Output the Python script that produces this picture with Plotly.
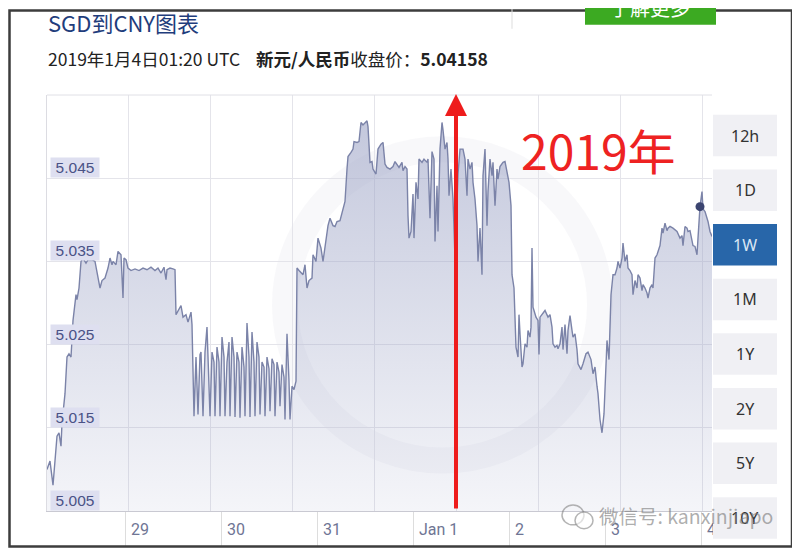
import plotly.graph_objects as go
import pandas as pd

# ---------------- data ----------------
BASE = "2018-12-28 00:00"          # hours below are counted from here (UTC)
hours = [
    4.5, 5.25, 6.0, 6.5, 7.0, 7.5, 8.0, 8.25, 9.0, 9.5, 10.0, 10.5, 11.0, 11.75, 12.0, 12.5,
    13.0, 13.5, 14.25, 14.75, 15.75, 16.5, 17.25, 17.75, 18.25, 19.0, 19.75, 20.25, 20.75,
    21.0, 21.75, 22.25, 23.0, 23.5, 23.75, 24.25, 24.75, 25.5, 26.5, 27.5, 28.5, 29.5, 30.5,
    31.5, 32.25, 33.0, 33.75, 34.25, 34.5, 35.25, 36.0, 36.5, 36.75, 37.25, 38.0, 38.5, 39.25,
    39.75, 40.5, 40.75,
    41.0, 41.25, 41.75, 42.25, 42.75, 43.0, 43.5, 44.0, 44.5, 44.75, 45.25, 45.75, 46.25, 46.5,
    47.0, 47.5, 47.75, 48.25, 48.75, 49.0, 49.5, 50.0, 50.25, 50.75, 51.25, 51.5, 52.0, 52.5,
    52.75, 53.25, 53.75, 54.0, 54.5, 55.0, 55.25, 55.75, 56.25, 56.5, 57.0, 57.5, 57.75, 58.25,
    58.75, 59.0, 59.5, 60.0, 60.25, 60.75, 61.25, 61.5, 62.0, 62.5, 62.75, 63.25, 63.75, 64.0,
    64.5, 65.0, 65.25, 65.75, 66.25, 66.75,
    67.0, 67.5, 68.5, 69.0, 69.5, 70.0, 70.75, 71.0, 71.75, 72.25, 73.0, 73.5, 74.25, 74.75,
    75.25, 76.0, 76.5, 77.0, 77.75, 78.5, 79.0, 79.5, 79.75, 80.5, 81.0, 81.25, 82.0, 82.5,
    83.0, 83.5, 84.0, 84.5, 84.75, 85.25, 85.75, 86.0, 86.75, 87.25, 88.0, 88.5, 89.0, 89.5,
    90.25, 91.0, 91.5, 92.0, 92.5, 93.25, 93.5, 94.0, 94.5, 94.75, 95.0, 95.5, 95.75, 96.0,
    96.25, 96.75, 97.25, 97.5,
    98.25, 98.75, 99.5, 99.75, 100.25, 100.75, 101.25, 101.5, 102.0, 102.25, 102.75, 103.25,
    103.5, 104.0, 104.5, 104.75, 105.0, 105.5, 106.0, 106.5, 107.25, 107.75, 108.5, 109.0,
    109.5, 109.75, 110.25, 110.75, 111.0, 111.5, 112.0, 112.25, 112.75, 113.25, 113.5, 114.0,
    114.5, 114.75, 115.25, 115.75, 116.0, 116.5, 117.0, 117.25, 117.75, 118.5, 119.0, 119.5,
    120.0, 120.5, 120.75, 121.25, 121.75, 122.25, 122.5, 122.75, 123.25, 123.5, 124.0, 124.5,
    124.75, 125.25, 125.5, 125.75, 126.0, 126.25, 126.75, 127.25, 127.5, 127.75, 128.25, 129.0,
    129.75, 130.25, 130.75, 131.0, 131.5, 132.0, 132.25, 132.75, 133.25, 133.5, 134.0, 134.5,
    134.75, 135.25, 135.75, 136.0, 136.5, 137.0, 137.25, 138.0, 138.5, 139.25, 139.75, 140.5,
    141.0, 141.5, 142.0, 142.25, 142.75, 143.25, 143.75, 144.25, 144.5, 145.0, 145.5, 146.0,
    146.5, 147.0, 147.25, 147.75, 148.25, 148.5, 149.0, 149.5, 149.75, 150.25, 150.75, 151.0,
    151.5, 152.0, 152.25, 152.75, 153.25, 153.5, 154.0, 154.5, 154.75, 155.25, 155.75, 156.0,
    156.5, 157.0, 157.25, 157.75, 158.25, 158.5, 159.0, 159.5, 159.75, 160.25, 161.0, 162.0,
    162.75, 163.25, 163.5, 164.0, 164.5, 164.75, 165.25, 165.75, 166.0, 166.5, 167.0, 167.25,
    167.5, 167.75, 168.25, 168.5, 169.0, 169.5, 169.75, 170.25, 170.75,
]
rate = [
    5.0100, 5.0110, 5.0081, 5.0116, 5.0140, 5.0144, 5.0128, 5.0156, 5.0191, 5.0235, 5.0239,
    5.0235, 5.0279, 5.0310, 5.0304, 5.0318, 5.0350, 5.0354, 5.0348, 5.0352, 5.0352, 5.0350,
    5.0330, 5.0318, 5.0327, 5.0330, 5.0342, 5.0354, 5.0346, 5.0350, 5.0346, 5.0362, 5.0358,
    5.0306, 5.0354, 5.0352, 5.0342, 5.0339, 5.0341, 5.0339, 5.0342, 5.0340, 5.0343, 5.0339,
    5.0342, 5.0336, 5.0343, 5.0328, 5.0340, 5.0342, 5.0341, 5.0340, 5.0286, 5.0291, 5.0297,
    5.0283, 5.0286, 5.0277, 5.0289, 5.0274,
    5.0232, 5.0164, 5.0235, 5.0166, 5.0238, 5.0241, 5.0164, 5.0241, 5.0271, 5.0235, 5.0164,
    5.0241, 5.0229, 5.0164, 5.0247, 5.0229, 5.0164, 5.0259, 5.0235, 5.0164, 5.0229, 5.0253,
    5.0164, 5.0259, 5.0235, 5.0163, 5.0241, 5.0229, 5.0162, 5.0247, 5.0223, 5.0164, 5.0276,
    5.0235, 5.0163, 5.0265, 5.0229, 5.0164, 5.0253, 5.0235, 5.0166, 5.0229, 5.0223, 5.0164,
    5.0235, 5.0221, 5.0170, 5.0233, 5.0226, 5.0164, 5.0229, 5.0217, 5.0176, 5.0226, 5.0211,
    5.0160, 5.0263, 5.0206, 5.0160, 5.0200, 5.0196, 5.0206,
    5.0342, 5.0339, 5.0334, 5.0346, 5.0318, 5.0327, 5.0330, 5.0358, 5.0350, 5.0378, 5.0366,
    5.0350, 5.0378, 5.0393, 5.0402, 5.0393, 5.0392, 5.0398, 5.0399, 5.0413, 5.0422, 5.0461,
    5.0476, 5.0481, 5.0485, 5.0494, 5.0493, 5.0494, 5.0517, 5.0514, 5.0517, 5.0519, 5.0512,
    5.0469, 5.0470, 5.0461, 5.0455, 5.0485, 5.0491, 5.0493, 5.0467, 5.0463, 5.0461, 5.0464,
    5.0470, 5.0467, 5.0463, 5.0469, 5.0459, 5.0464, 5.0461, 5.0405, 5.0378, 5.0386, 5.0419,
    5.0431, 5.0378, 5.0445, 5.0425, 5.0473,
    5.0469, 5.0473, 5.0469, 5.0473, 5.0402, 5.0482, 5.0473, 5.0374, 5.0441, 5.0386, 5.0485,
    5.0517, 5.0508, 5.0485, 5.0493, 5.0473, 5.0429, 5.0461, 5.0425, 5.0354, 5.0455, 5.0485,
    5.0485, 5.0473, 5.0429, 5.0473, 5.0461, 5.0469, 5.0445, 5.0425, 5.0393, 5.0350, 5.0390,
    5.0334, 5.0453, 5.0485, 5.0393, 5.0434, 5.0473, 5.0453, 5.0469, 5.0417, 5.0461, 5.0449,
    5.0464, 5.0469, 5.0470, 5.0457, 5.0445, 5.0417, 5.0334, 5.0318, 5.0247, 5.0235, 5.0286,
    5.0263, 5.0223, 5.0227, 5.0251, 5.0247, 5.0267, 5.0259, 5.0271, 5.0366, 5.0295, 5.0291,
    5.0283, 5.0279, 5.0238, 5.0283, 5.0286, 5.0291, 5.0283, 5.0286, 5.0271, 5.0251, 5.0247,
    5.0249, 5.0245, 5.0251, 5.0271, 5.0244, 5.0274, 5.0239, 5.0267, 5.0285, 5.0267, 5.0259,
    5.0263, 5.0244, 5.0227, 5.0220, 5.0227, 5.0239, 5.0241, 5.0232, 5.0215, 5.0223, 5.0200,
    5.0191, 5.0160, 5.0144, 5.0167, 5.0220, 5.0255, 5.0232, 5.0310, 5.0334,
    5.0334, 5.0342, 5.0350, 5.0342, 5.0354, 5.0372, 5.0350, 5.0358, 5.0342, 5.0339, 5.0334,
    5.0310, 5.0327, 5.0318, 5.0334, 5.0330, 5.0315, 5.0322, 5.0318, 5.0312, 5.0306, 5.0318,
    5.0322, 5.0318, 5.0354, 5.0358, 5.0362, 5.0369, 5.0390, 5.0384, 5.0396, 5.0387, 5.0390,
    5.0392, 5.0390, 5.0386, 5.0378, 5.0381, 5.0369, 5.0392, 5.0390, 5.0386, 5.0387, 5.0374,
    5.0369, 5.0368, 5.0358, 5.0378, 5.0405, 5.04158, 5.0434, 5.0413, 5.0410, 5.0402, 5.0398,
    5.0386, 5.0380,
]
close_hour = 167.75
close_rate = 5.04158

x_tick_days = ["2018-12-29", "2018-12-30", "2018-12-31", "2019-01-01",
               "2019-01-02", "2019-01-03", "2019-01-04"]
x_tick_text = ["29", "30", "31", "Jan 1", "2", "3", "4"]
y_tick_vals = [5.005, 5.015, 5.025, 5.035, 5.045]
y_tick_text = ["5.005", "5.015", "5.025", "5.035", "5.045"]
range_buttons = ["12h", "1D", "1W", "1M", "1Y", "2Y", "5Y", "10Y"]
active_button = "1W"

title_text = "SGD到CNY图表"
subtitle_text = "2019年1月4日01:20 UTC&nbsp;&nbsp;&nbsp;&nbsp;<b>新元/人民币</b>收盘价：<b>5.04158</b>"

# ---------------- figure geometry (page pixels) ----------------
PAGE_W, PAGE_H = 800, 557
OFF = 8                                 # default body margin of the html page
L, R, T, B = 47, 712, 95, 516          # plot area, page pixels


def px(xp):
    return (xp - L) / (R - L)


def py(yp):
    return (B - yp) / (B - T)


base = pd.Timestamp(BASE)
times = base + pd.to_timedelta(hours, unit="h")
close_time = base + pd.to_timedelta(close_hour, unit="h")
x_range = [base + pd.to_timedelta(4.5, unit="h"), base + pd.to_timedelta(170.75, unit="h")]

fig = go.Figure()

# dummy trace so the grid axis exists
fig.add_trace(go.Scatter(x=[None], y=[None], xaxis="x2", yaxis="y",
                         showlegend=False, hoverinfo="skip"))

fig.add_trace(go.Scatter(
    x=times, y=rate, mode="lines",
    line=dict(color="#7b83a8", width=1.4),
    fill="tozeroy",
    fillgradient=dict(type="vertical", start=5.005, stop=5.055,
                      colorscale=[[0, "rgba(155,162,197,0.10)"],
                                  [1, "rgba(155,162,197,0.62)"]]),
    showlegend=False, hoverinfo="skip",
))

fig.add_trace(go.Scatter(
    x=[close_time], y=[close_rate], mode="markers",
    marker=dict(color="#3b4470", size=9),
    showlegend=False, hoverinfo="skip",
))

grid_col = "#e4e4ea"
fig.update_layout(
    width=PAGE_W - OFF, height=PAGE_H - OFF,
    margin=dict(l=L - OFF, r=PAGE_W - R, t=T - OFF, b=PAGE_H - B, pad=0),
    paper_bgcolor="white", plot_bgcolor="white",
    font=dict(family="Roboto, Liberation Sans, sans-serif"),
    xaxis=dict(
        type="date", range=x_range,
        tickvals=pd.to_datetime(x_tick_days), ticktext=x_tick_text,
        showgrid=False, zeroline=False,
        ticks="outside", ticklen=34, tickcolor="#dddddd", tickwidth=1,
        ticklabelposition="outside right", ticklabelstandoff=4, ticklabelshift=5,
        tickfont=dict(size=16, color="#6f7594", family="Liberation Sans Narrow, Roboto, sans-serif"),
        showline=True, linecolor="#c9c9d2", linewidth=1, mirror=False,
    ),
    xaxis2=dict(
        overlaying="x", anchor="y", range=[0, (R - L) / 81.9],
        tick0=0, dtick=1, showgrid=True, gridcolor=grid_col, gridwidth=1,
        showticklabels=False, ticks="", zeroline=False, showline=False,
    ),
    yaxis=dict(
        range=[5.005, 5.055], tick0=5.005, dtick=0.01,
        showgrid=True, gridcolor=grid_col, gridwidth=1,
        showticklabels=False, ticks="", zeroline=False,
        showline=True, linecolor="#dcdce2", linewidth=1, mirror=False,
    ),
)

shapes = []
annotations = []

# top plot border
shapes.append(dict(type="line", xref="paper", yref="paper", x0=0, x1=1, y0=1, y1=1,
                   line=dict(color="#e0e0e6", width=1)))

# faint "xe" watermark ring
shapes.append(dict(type="circle", xref="paper", yref="paper", layer="below",
                   x0=px(285), x1=px(600), y0=py(465), y1=py(150),
                   line=dict(color="rgba(175,180,205,0.09)", width=26)))

# y tick labels with a tinted box
for v, t in zip(y_tick_vals, y_tick_text):
    annotations.append(dict(x=0, y=v, xref="paper", yref="y", xanchor="left", yanchor="bottom",
                            text=t, showarrow=False, xshift=3, yshift=0, width=48, height=19,
                            align="center", valign="middle",
                            font=dict(size=15.5, color="#4a5286", family="Liberation Sans, Arial, sans-serif"),
                            bgcolor="#dedff0", borderpad=0))

# header
annotations.append(dict(x=px(46), y=py(21), xref="paper", yref="paper", xanchor="left", yanchor="middle",
                        text=title_text, showarrow=False,
                        font=dict(size=22, color="#1f3d7c", family="Noto Sans CJK SC")))
annotations.append(dict(x=px(46), y=py(58), xref="paper", yref="paper", xanchor="left", yanchor="middle",
                        text=subtitle_text, showarrow=False,
                        font=dict(size=17.5, color="#222222", family="Noto Sans CJK SC")))

# outer frame
shapes.append(dict(type="rect", xref="paper", yref="paper",
                   x0=px(9.5), x1=px(792), y0=py(552), y1=py(9.5),
                   line=dict(color="#3d3d3d", width=2.5)))
# header separator
shapes.append(dict(type="line", xref="paper", yref="paper", x0=px(512), x1=px(512), y0=py(28), y1=py(8),
                   line=dict(color="#dddddd", width=1)))
# green button
shapes.append(dict(type="rect", xref="paper", yref="paper", x0=px(585), x1=px(716), y0=py(24), y1=py(-6),
                   line=dict(width=0), fillcolor="#3caa22"))
annotations.append(dict(x=px(650), y=py(6), xref="paper", yref="paper", xanchor="center", yanchor="middle",
                        text="了解更多", showarrow=False,
                        font=dict(size=20, color="white", family="Noto Sans CJK SC")))

# range buttons
btn_top = 115
for i, lab in enumerate(range_buttons):
    y0p = btn_top + i * 55.3
    active = lab == active_button
    shapes.append(dict(type="rect", xref="paper", yref="paper", x0=px(713), x1=px(777),
                       y0=py(y0p + 42), y1=py(y0p), line=dict(width=0),
                       fillcolor="#2866a9" if active else "#f0f0f4"))
    annotations.append(dict(x=px(745), y=py(y0p + 21), xref="paper", yref="paper",
                            xanchor="center", yanchor="middle", text=lab, showarrow=False,
                            font=dict(size=16, color="#dbe7f5" if active else "#333333",
                                      family="Noto Sans, Open Sans, sans-serif")))

# red arrow and label
annotations.append(dict(x=px(456), y=py(94), xref="paper", yref="paper", ax=0, ay=416,
                        axref="pixel", ayref="pixel", text="", showarrow=True,
                        arrowhead=2, arrowsize=1.1, arrowwidth=4, arrowcolor="#ee1c1c"))
annotations.append(dict(x=px(598), y=py(150), xref="paper", yref="paper", xanchor="center", yanchor="middle",
                        text="2019年", showarrow=False,
                        font=dict(size=48, color="#ee2222", family="Noto Sans CJK SC")))

# wechat watermark
shapes.append(dict(type="circle", xref="paper", yref="paper", x0=px(562), x1=px(584), y0=py(530), y1=py(510),
                   line=dict(color="rgba(130,130,130,0.6)", width=1.5)))
shapes.append(dict(type="circle", xref="paper", yref="paper", x0=px(575), x1=px(593), y0=py(534), y1=py(517),
                   line=dict(color="rgba(130,130,130,0.6)", width=1.5), fillcolor="rgba(255,255,255,0.6)"))
annotations.append(dict(x=px(597), y=py(521), xref="paper", yref="paper", xanchor="left", yanchor="middle",
                        text="微信号: kanxinjiapo", showarrow=False,
                        font=dict(size=19.5, color="rgba(120,120,120,0.6)", family="Noto Sans CJK SC")))

fig.update_layout(shapes=shapes, annotations=annotations)
fig.write_html("out.html")
